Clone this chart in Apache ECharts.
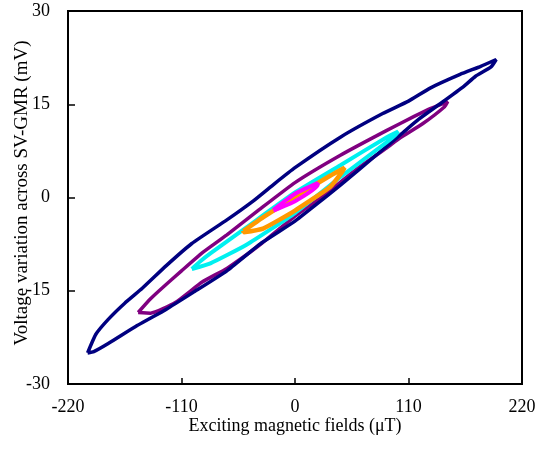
<!DOCTYPE html>
<html>
<head>
<meta charset="utf-8">
<script src="https://cdn.jsdelivr.net/npm/echarts@6/dist/echarts.min.js"></script>
<style>
html,body{margin:0;padding:0;background:#fff;}
#chart{width:538px;height:449px;}
</style>
</head>
<body>
<div id="chart"></div>
<script>
// Tick values
var xTicks = [-220, -110, 0, 110, 220];
var yTicks = [-30, -15, 0, 15, 30];
var xTitle = 'Exciting magnetic fields (\u03bcT)';
var yTitle = 'Voltage variation across SV-GMR (mV)';

// Loop branches: [field (uT), voltage (mV)]
var navyUpper = [[-201,-25],[-193,-22],[-181,-19.6],[-165,-17],[-148,-14.6],[-125,-11],[-100,-7.4],[-66,-3.6],[-40,-0.5],[-20,2.2],[0,4.8],[44,9.7],[85,13.5],[110,15.5],[131,17.6],[160,19.8],[180,21.1],[195,22.2]];
var navyLower = [[190,21],[175,19.5],[163,17.8],[140,15],[120,12.6],[105,10.5],[80,7],[44,2],[20,-1.2],[0,-3.8],[-34,-7.5],[-66,-11.8],[-99,-15.3],[-125,-18],[-153,-20.6],[-181,-23.5],[-195,-24.8],[-201,-25]];

var purpleUpper = [[-152,-18.5],[-140,-16.3],[-129,-14.6],[-110,-11.8],[-90,-8.9],[-66,-6],[-35,-2],[0,2.4],[44,6.8],[89,10.8],[115,13],[131,14.3],[148,15.4]];
var purpleLower = [[145,14.6],[124,11.9],[102,9.6],[89,8],[60,4.6],[27,0.2],[0,-3],[-34,-7.6],[-66,-11.4],[-90,-13.6],[-116,-16.9],[-140,-18.6],[-152,-18.5]];

var cyanUpper = [[-100,-11.5],[-92,-10.3],[-82,-9],[-47,-4.8],[0,0.8],[44,5.2],[89,9.7],[100,10.6]];
var cyanLower = [[97,10],[89,8.9],[44,3.3],[0,-2.5],[-47,-7.6],[-82,-10.6],[-100,-11.5]];

var orangeUpper = [[-50,-5.4],[-31,-3.2],[0,0.1],[34,3.5],[48,4.8]];
var orangeLower = [[46,4.2],[34,1.7],[0,-2.1],[-31,-5],[-50,-5.6]];

var magentaUpper = [[-21,-2],[0,0.6],[22,2.3]];
var magentaLower = [[22,2],[0,-0.6],[-21,-2.1]];

function loop(up, low) {
  var d = up.concat(low);
  d.push(up[0]);
  return d;
}

var loops = [
  {name: 'purple', data: loop(purpleUpper, purpleLower), color: '#800080', w: 3.5},
  {name: 'navy', data: loop(navyUpper, navyLower), color: '#000080', w: 3.5},
  {name: 'cyan', data: loop(cyanUpper, cyanLower), color: '#00f0f0', w: 4},
  {name: 'orange', data: loop(orangeUpper, orangeLower), color: '#ff9900', w: 4.5},
  {name: 'magenta', data: loop(magentaUpper, magentaLower), color: '#ff00ff', w: 4}
];

var font = "'Liberation Serif', 'Times New Roman', serif";
var chart = echarts.init(document.getElementById('chart'), null, {renderer: 'canvas'});
chart.setOption({
  animation: false,
  backgroundColor: '#fff',
  grid: {left: 68, right: 16, top: 11, bottom: 65, containLabel: false, outerBoundsMode: 'none',
         show: true, borderColor: '#000', borderWidth: 2, backgroundColor: 'transparent'},
  graphic: [
    {type: 'text', x: 295, y: 426, silent: true,
     style: {text: xTitle, fontFamily: font, fontSize: 18, fill: '#000', align: 'center', verticalAlign: 'middle'}},
    {type: 'text', x: 22, y: 193, rotation: Math.PI / 2, silent: true,
     style: {text: yTitle, fontFamily: font, fontSize: 19, fill: '#000', align: 'center', verticalAlign: 'middle'}}
  ],
  xAxis: {
    type: 'value', min: xTicks[0], max: xTicks[xTicks.length - 1], interval: 110,
    axisLine: {show: true, onZero: false, lineStyle: {color: '#000', width: 2}},
    axisTick: {show: true, inside: true, length: 6, lineStyle: {color: '#000', width: 1.5}},
    axisLabel: {fontFamily: font, fontSize: 18, color: '#000', margin: 14},
    splitLine: {show: false}
  },
  yAxis: {
    type: 'value', min: yTicks[0], max: yTicks[yTicks.length - 1], interval: 15,
    axisLine: {show: true, onZero: false, lineStyle: {color: '#000', width: 2}},
    axisTick: {show: true, inside: true, length: 7, lineStyle: {color: '#000', width: 1.5}},
    axisLabel: {fontFamily: font, fontSize: 18, color: '#000', margin: 18},
    splitLine: {show: false}
  },
  series: loops.map(function (l) {
    return {
      name: l.name, type: 'line', data: l.data, showSymbol: false, smooth: 0.15,
      lineStyle: {color: l.color, width: l.w}, itemStyle: {color: l.color}
    };
  })
});
</script>
</body>
</html>
